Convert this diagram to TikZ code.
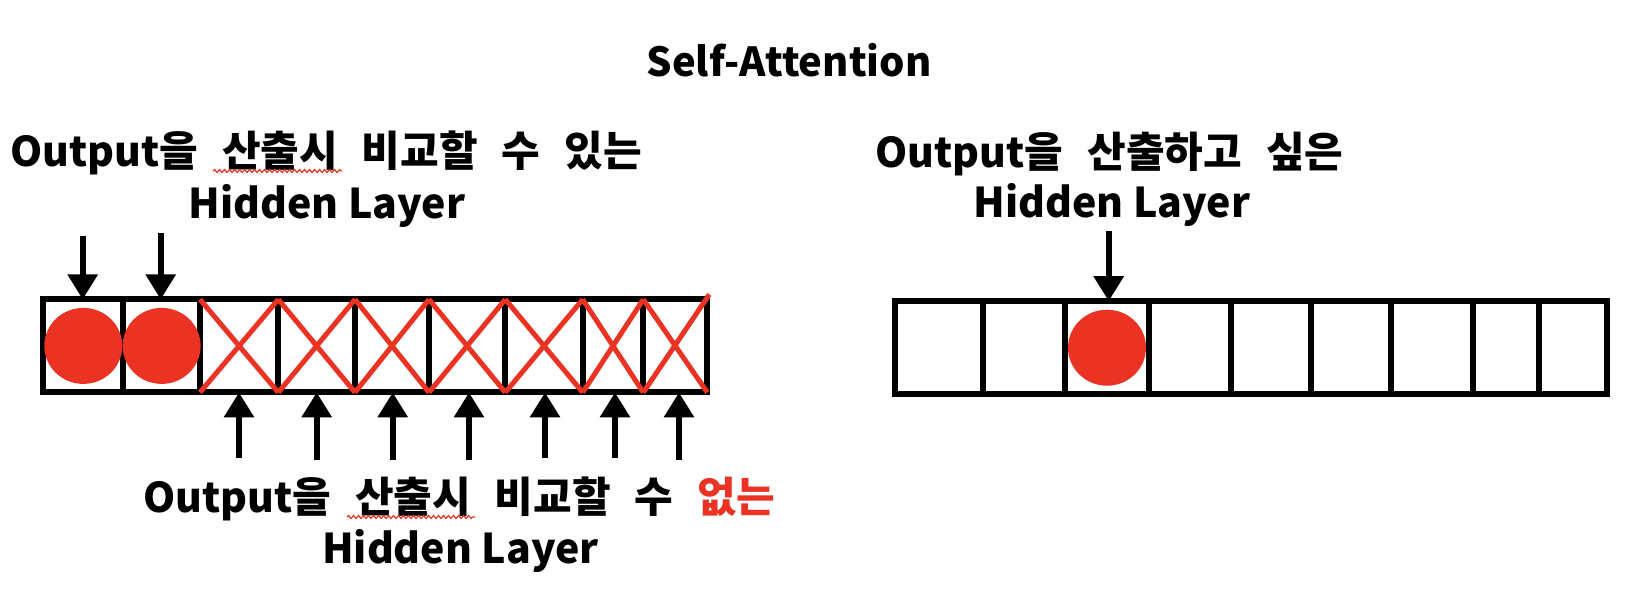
\documentclass[tikz,border=0pt]{standalone}
\usepackage{fontspec}
\setmainfont{Noto Sans CJK KR}
\usepackage{tikz}
\usetikzlibrary{arrows.meta,positioning,decorations.pathmorphing}
\definecolor{xred}{RGB}{234,51,35}
\newcommand\labfont{\bfseries\fontsize{41}{50}\selectfont}
\newcommand\kr[1]{{\fontsize{42}{50}\selectfont #1}}

\begin{document}
\begin{tikzpicture}[x=1pt,y=-1pt,>={Triangle[width=29pt,length=25pt]},
cell/.style={draw,line width=6pt,minimum height=93pt,inner sep=0pt,outer sep=0pt},
lab/.style={font=\labfont,inner sep=0pt,anchor=base},
krlab/.style={lab,font={\labfont\spaceskip=24pt\relax}},
arr/.style={->,line width=6pt},
cross/.style={draw=xred,line width=5pt},
squig/.style={draw=xred,line width=1.2pt,decorate,decoration={snake,segment length=5pt,amplitude=1.5pt}}]
\useasboundingbox (0,0) rectangle (1634,616);
\node[lab,font=\bfseries\fontsize{40}{48}\selectfont] (title) at (789,76) {Self-Attention};

% left row: two usable cells, seven masked ones
\node[cell,minimum width=80pt] (L1) at (83.3,345.9) {};
\node[cell,minimum width=76.7pt] (L2) at (161.65,345.9) {};
\node[cell,minimum width=78.3pt] (L3) at (239.15,345.9) {};
\node[cell,minimum width=76.7pt] (L4) at (316.65,345.9) {};
\node[cell,minimum width=74pt] (L5) at (392,345.9) {};
\node[cell,minimum width=76.3pt] (L6) at (467.15,345.9) {};
\node[cell,minimum width=77.4pt] (L7) at (544,345.9) {};
\node[cell,minimum width=60.6pt] (L8) at (613,345.9) {};
\node[cell,minimum width=64pt] (L9) at (675.3,345.9) {};
\fill[xred] (L1) ellipse (39 and 38);
\fill[xred] (L2) ellipse (39 and 38);
\draw[cross] (L3.north west)--(L3.south east) (L3.south west)--(L3.north east);
\draw[cross] (L4.north west)--(L4.south east) (L4.south west)--(L4.north east);
\draw[cross] (L5.north west)--(L5.south east) (L5.south west)--(L5.north east);
\draw[cross] (L6.north west)--(L6.south east) (L6.south west)--(L6.north east);
\draw[cross] (L7.north west)--(L7.south east) (L7.south west)--(L7.north east);
\draw[cross] (L8.north west)--(L8.south east) (L8.south west)--(L8.north east);
\draw[cross] (L9.north west)--(L9.south east) (L9.south west)--([shift={(2,-5)}]L9.north east);

\node[krlab] (cmpA) at (326,166) {Output\kr{을 산출시 비교할 수 있는}};
\node[lab] (cmpB) at (327,218) {Hidden Layer};
\draw[squig] (213,171)--(342,171);
\coordinate (d1) at (82.7,236);
\coordinate (d2) at (160.7,233);
\draw[arr] (d1)--(d1|-L1.north);
\draw[arr] (d2)--(d2|-L2.north);

\node[krlab] (nocmpA) at (459,512) {Output\kr{을 산출시 비교할 수 \textcolor{xred}{없는}}};
\node[lab] (nocmpB) at (460.5,563) {Hidden Layer};
\draw[squig] (347,517)--(475,517);
\coordinate (u3) at (239,458);
\coordinate (u4) at (316.7,460);
\coordinate (u5) at (392.7,460);
\coordinate (u6) at (469,460);
\coordinate (u7) at (545,458);
\coordinate (u8) at (615,458);
\coordinate (u9) at (679,460);
\draw[arr] (u3)--(u3|-L3.south);
\draw[arr] (u4)--(u4|-L4.south);
\draw[arr] (u5)--(u5|-L5.south);
\draw[arr] (u6)--(u6|-L6.south);
\draw[arr] (u7)--(u7|-L7.south);
\draw[arr] (u8)--(u8|-L8.south);
\draw[arr] (u9)--(u9|-L9.south);

% right row: the query cell
\node[cell,minimum width=87.7pt] (R1) at (938.85,347.7) {};
\node[cell,minimum width=82.3pt] (R2) at (1023.85,347.7) {};
\node[cell,minimum width=84pt] (R3) at (1107,347.7) {};
\node[cell,minimum width=82pt] (R4) at (1190,347.7) {};
\node[cell,minimum width=80pt] (R5) at (1271,347.7) {};
\node[cell,minimum width=80pt] (R6) at (1351,347.7) {};
\node[cell,minimum width=81.7pt] (R7) at (1431.85,347.7) {};
\node[cell,minimum width=66.3pt] (R8) at (1505.85,347.7) {};
\node[cell,minimum width=68pt] (R9) at (1573,347.7) {};
\fill[xred] (R3) ellipse (39 and 38);
\node[krlab] (wantA) at (1109.5,167) {Output\kr{을 산출하고 싶은}};
\node[lab] (wantB) at (1112,217) {Hidden Layer};
\coordinate (d3) at (1108.7,231);
\draw[arr] (d3)--(d3|-R3.north);
\end{tikzpicture}
\end{document}
